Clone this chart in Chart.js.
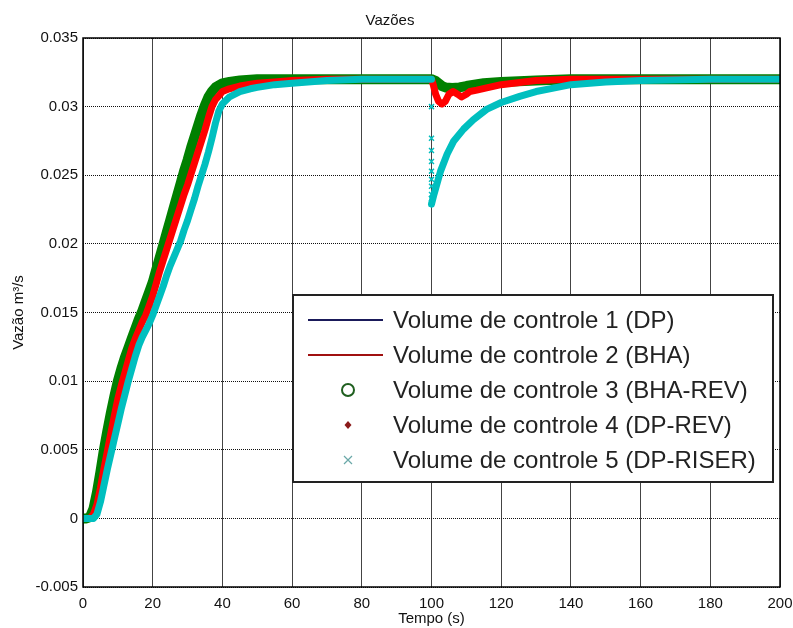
<!DOCTYPE html>
<html>
<head>
<meta charset="utf-8">
<script src="https://cdn.jsdelivr.net/npm/chart.js@4.4.1/dist/chart.umd.min.js"></script>
<style>
html,body{margin:0;padding:0;background:#fff;}
#wrap{width:793px;height:628px;}
</style>
</head>
<body>
<div id="wrap"><canvas id="c" width="793" height="628"></canvas></div>
<script>
// ---- data ----
const seriesNames = [
  'Volume de controle 1 (DP)',
  'Volume de controle 2 (BHA)',
  'Volume de controle 3 (BHA-REV)',
  'Volume de controle 4 (DP-REV)',
  'Volume de controle 5 (DP-RISER)'
];
const xTickLabels = ['0','20','40','60','80','100','120','140','160','180','200'];
const yTickLabels = ['-0.005','0','0.005','0.01','0.015','0.02','0.025','0.03','0.035'];

// Series 3 (BHA-REV, green) and Series 1 (DP, hidden underneath)
const tGreen = [0,1,2,3,4,5,6,7,8,9,10,11,12,13,14,15,16,17,18,19,20,21,22,23,24,25,26,27,28,29,30,31,32,33,34,35,36,37,38,40,42,45,50,60,80,100,101,102,103,104,106,108,110,115,120,130,140,160,200];
const vGreen = [0,0,0.0001,0.0007,0.0019,0.0034,0.005,0.0064,0.0077,0.0089,0.01,0.0109,0.0117,0.0124,0.0131,0.0138,0.0145,0.0151,0.0158,0.0165,0.0172,0.0181,0.019,0.0199,0.0208,0.0217,0.0226,0.0235,0.0244,0.0253,0.0261,0.027,0.0278,0.0286,0.0294,0.0301,0.0307,0.0311,0.0314,0.0317,0.0318,0.0319,0.032,0.032,0.032,0.032,0.0319,0.0317,0.0315,0.0314,0.03135,0.0314,0.0315,0.0317,0.0318,0.0319,0.032,0.032,0.032];

// Series 2 (BHA, red) and Series 4 (DP-REV)
const tRed = [0,2,3,4,5,6,7,8,9,10,11,12,13,14,15,16,17,18,19,20,21,22,23,24,25,26,27,28,29,30,31,32,33,34,35,36,37,38,39,40,42,45,50,55,60,70,100,100.5,101.2,102,103,104,105,106.2,107.5,108.6,110,111,113,115.5,120,130,140,160,200];
const vRed = [0,0,0.0003,0.001,0.0022,0.0036,0.0049,0.0062,0.0075,0.0087,0.0097,0.0106,0.0115,0.0124,0.0131,0.0137,0.0143,0.0148,0.0155,0.0162,0.0171,0.018,0.0188,0.0196,0.0204,0.0212,0.022,0.0228,0.0236,0.0243,0.0251,0.0259,0.0267,0.0275,0.0283,0.0292,0.03,0.0305,0.0308,0.0311,0.0313,0.0315,0.0317,0.0318,0.0319,0.032,0.032,0.0316,0.0309,0.0304,0.0302,0.0304,0.0309,0.0311,0.0309,0.0307,0.0309,0.0311,0.0312,0.03135,0.0316,0.0319,0.032,0.032,0.032];

// Series 5 (DP-RISER, cyan x markers)
const tCyan = [0,3,4,5,6,7,8,9,10,11,12,13,14,15,16,17,18,19,20,21,22,23,24,25,26,27,28,29,30,31,32,33,34,35,36,37,38,39,40,42,45,48,50,55,60,70,80,100,100,100,100,100,100,100,100,100,100,100,100.7,102.6,104.5,106.4,109.2,112,115.8,120,125.3,130,135,140,150,160,180,200];
const vCyan = [0,0,0.0003,0.0012,0.0024,0.0036,0.0047,0.0058,0.0069,0.008,0.009,0.01,0.0109,0.0118,0.0126,0.0132,0.0137,0.0142,0.0148,0.0155,0.0162,0.0169,0.0177,0.0184,0.019,0.0196,0.0202,0.021,0.0217,0.0225,0.0233,0.0242,0.025,0.0258,0.0267,0.0277,0.0288,0.0297,0.0302,0.0307,0.0311,0.0313,0.0314,0.0316,0.0317,0.0319,0.032,0.032,0.03,0.0277,0.0268,0.026,0.0253,0.0247,0.0242,0.0236,0.0233,0.0229,0.0236,0.0253,0.02655,0.0275,0.02836,0.02905,0.0298,0.0303,0.03075,0.0311,0.03135,0.0316,0.0318,0.0319,0.032,0.032];

const pts = (t, v) => t.map((x, i) => ({x: x, y: v[i]}));

const FONT = "'Liberation Sans', Arial, sans-serif";
const GREEN = '#008000', RED = '#ff0000', CYAN = '#00bfbf', NAVY = '#000080';

const frameAndLegend = {
  id: 'frameAndLegend',
  afterDraw(chart) {
    const ctx = chart.ctx, a = chart.chartArea;
    ctx.save();
    ctx.strokeStyle = '#000';
    ctx.lineWidth = 1.5;
    ctx.strokeRect(a.left, a.top, a.right - a.left, a.bottom - a.top);
    // legend box
    const bx = 293, by = 295, bw = 480, bh = 187;
    ctx.fillStyle = '#fff';
    ctx.fillRect(bx, by, bw, bh);
    ctx.lineWidth = 2;
    ctx.strokeStyle = '#222';
    ctx.strokeRect(bx, by, bw, bh);
    ctx.font = '24px ' + FONT;
    ctx.textBaseline = 'middle';
    ctx.textAlign = 'left';
    const rows = [320, 355, 390, 425, 460];
    rows.forEach((ry, i) => {
      ctx.fillStyle = '#222';
      ctx.fillText(seriesNames[i], 393, ry + 1);
      const mx = 348;
      if (i === 0 || i === 1) {
        ctx.beginPath();
        ctx.strokeStyle = i === 0 ? '#1a1a5a' : '#a01010';
        ctx.lineWidth = 2;
        ctx.moveTo(308, ry); ctx.lineTo(383, ry); ctx.stroke();
      } else if (i === 2) {
        ctx.beginPath();
        ctx.strokeStyle = '#1f5f1f';
        ctx.lineWidth = 2;
        ctx.arc(mx, ry, 6, 0, Math.PI * 2); ctx.stroke();
      } else if (i === 3) {
        ctx.beginPath();
        ctx.fillStyle = '#8b1a1a';
        ctx.moveTo(mx, ry - 4); ctx.lineTo(mx + 3.5, ry); ctx.lineTo(mx, ry + 4); ctx.lineTo(mx - 3.5, ry); ctx.closePath();
        ctx.fill();
      } else {
        ctx.beginPath();
        ctx.strokeStyle = '#6aa8a8';
        ctx.lineWidth = 1.2;
        ctx.moveTo(mx - 4, ry - 4); ctx.lineTo(mx + 4, ry + 4);
        ctx.moveTo(mx + 4, ry - 4); ctx.lineTo(mx - 4, ry + 4);
        ctx.stroke();
      }
    });
    ctx.restore();
  }
};

new Chart(document.getElementById('c'), {
  type: 'line',
  data: {
    datasets: [
      { label: seriesNames[0], data: pts(tGreen, vGreen), borderColor: NAVY, borderWidth: 1.5, pointRadius: 0, order: 4 },
      { label: seriesNames[2], data: pts(tGreen, vGreen), borderColor: GREEN, borderWidth: 10, pointRadius: 0, borderCapStyle: 'round', borderJoinStyle: 'round', order: 3 },
      { label: seriesNames[3], data: pts(tRed, vRed), borderColor: '#8b0000', borderWidth: 2, pointRadius: 0, order: 2 },
      { label: seriesNames[1], data: pts(tRed, vRed), borderColor: RED, borderWidth: 7, pointRadius: 0, borderCapStyle: 'round', borderJoinStyle: 'round', order: 1 },
      { label: seriesNames[4], data: pts(tCyan, vCyan), borderColor: CYAN, borderWidth: 7, borderCapStyle: 'round', borderJoinStyle: 'round', order: 0,
        pointStyle: 'crossRot', pointBorderWidth: 1.5, pointBorderColor: CYAN, pointBackgroundColor: CYAN,
        pointRadius: (c) => (c.raw && c.raw.x === 100 && c.raw.y < 0.0315) ? 3.5 : 0,
        segment: { borderColor: (s) => s.p0.parsed.x === s.p1.parsed.x ? 'rgba(0,0,0,0)' : CYAN } }
    ]
  },
  options: {
    responsive: false,
    animation: false,
    devicePixelRatio: 1,
    layout: { padding: { left: 0, right: 13, top: 0, bottom: 0 } },
    plugins: {
      legend: { display: false },
      tooltip: { enabled: false },
      title: { display: true, text: 'Vazões', color: '#111', font: { family: FONT, size: 15, weight: 'normal' }, padding: { top: 12, bottom: 8 } }
    },
    scales: {
      x: {
        type: 'linear', min: 0, max: 200,
        afterFit: (s) => { s.height = 41; s.paddingLeft = 0; s.paddingRight = 0; },
        ticks: { stepSize: 20, color: '#111', font: { family: FONT, size: 15 }, padding: 8, maxRotation: 0,
          callback: (v, i) => xTickLabels[i] },
        grid: { color: '#444', lineWidth: 1, drawTicks: false },
        border: { display: false },
        title: { display: true, text: 'Tempo (s)', color: '#111', font: { family: FONT, size: 15 }, padding: { top: 0, bottom: 0 } }
      },
      y: {
        type: 'linear', min: -0.005, max: 0.035,
        afterFit: (s) => { s.width = 83; s.paddingTop = 0; s.paddingBottom = 0; },
        ticks: { stepSize: 0.005, color: '#111', font: { family: FONT, size: 15 }, padding: 5,
          callback: (v, i) => yTickLabels[i] },
        grid: { color: '#111', lineWidth: 1, drawTicks: false },
        border: { display: false, dash: [1, 1] },
        title: { display: true, text: 'Vazão m³/s', color: '#111', font: { family: FONT, size: 15 }, padding: { top: 10, bottom: 0 } }
      }
    }
  },
  plugins: [frameAndLegend]
});
</script>
</body>
</html>
